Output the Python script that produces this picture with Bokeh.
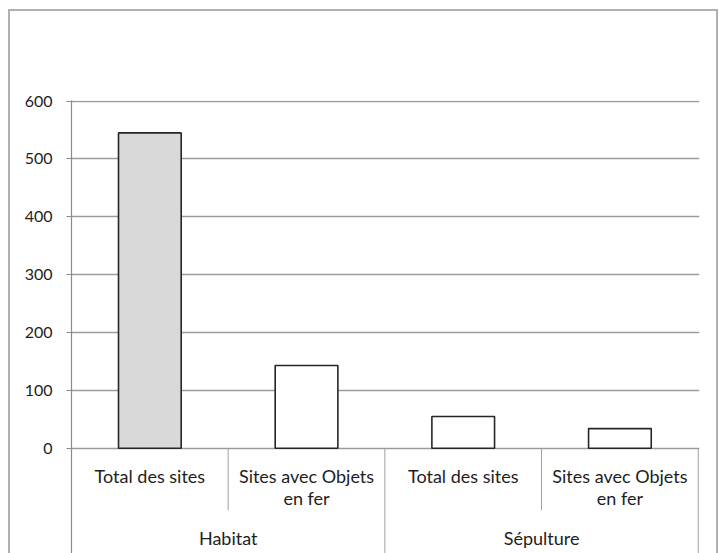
from bokeh.plotting import figure
from bokeh.models import Range1d, FixedTicker, ColumnDataSource
from bokeh.core.properties import value
from bokeh.embed import file_html
from bokeh.resources import INLINE

# ---- data ----
groups = ["Habitat", "Sépulture"]
subcats = ["Total des sites", "Sites avec Objets\nen fer"]
values = [545, 143, 55, 34]
fills = ["#d9d9d9", "#ffffff", "#ffffff", "#ffffff"]
y_ticks = [0, 100, 200, 300, 400, 500, 600]

FONT = "Lato"
W, H = 719, 553
Y_MIN, Y_MAX = -181.8, 601
PX_PER_UNIT = 452 / (Y_MAX - Y_MIN)

n_sub = len(subcats)
xs = [i + 0.5 for i in range(len(values))]
src = ColumnDataSource(dict(x=xs, top=values, fill=fills))

GRAY = "#b0b0b0"
border_css = ", ".join([
    "inset 8px 0 0 0 white", "inset 0 9px 0 0 white", "inset -1px 0 0 0 white",
    f"inset 10px 0 0 0 {GRAY}", f"inset 0 11px 0 0 {GRAY}", f"inset -3px 0 0 0 {GRAY}",
])

p = figure(width=W, height=H, output_backend="svg", toolbar_location=None,
           x_range=Range1d(0, 4.008), y_range=Range1d(Y_MIN, Y_MAX),
           min_border_left=71, min_border_right=20, min_border_top=100,
           min_border_bottom=0)
p.styles = {"box-shadow": border_css, "background-color": "white"}
p.outline_line_color = None
p.background_fill_color = "white"
p.border_fill_color = None

p.xaxis.visible = False
p.xgrid.visible = False
p.yaxis.ticker = FixedTicker(ticks=y_ticks)
p.ygrid.ticker = FixedTicker(ticks=y_ticks)
p.ygrid.grid_line_color = "#9b9b9b"
p.ygrid.grid_line_width = 1.3
p.yaxis.axis_line_color = "#8a8a8a"
p.yaxis.axis_line_width = 1.2
p.yaxis.major_tick_line_color = "#8a8a8a"
p.yaxis.major_tick_in = 0
p.yaxis.major_tick_out = 5
p.yaxis.minor_tick_line_color = None
p.yaxis.major_label_text_font = FONT
p.yaxis.major_label_text_font_size = "16px"
p.yaxis.major_label_text_color = "#1e1e1e"
p.yaxis.major_label_standoff = 14

p.vbar(x="x", top="top", bottom=0, width=0.4, source=src,
       fill_color="fill", line_color="#262626", line_width=1.6)

# category labels
lab_x, lab_t = [], []
for g in range(len(groups)):
    for s, name in enumerate(subcats):
        lab_x.append(g * n_sub + s + 0.5)
        lab_t.append(name)
p.text(x=lab_x, y=[0] * len(lab_x), text=lab_t, text_font=value(FONT),
       text_font_size="18px", text_align="center", text_baseline="top",
       text_color="#1e1e1e", y_offset=17, text_line_height=0.97)

# group labels
p.text(x=[g * n_sub + n_sub / 2 for g in range(len(groups))],
       y=[0] * len(groups), text=groups, text_font=value(FONT),
       text_font_size="18px", text_align="center", text_baseline="middle",
       text_color="#1e1e1e", y_offset=90)

# separators
sub_depth = -62 / PX_PER_UNIT
sub_sep = [g * n_sub + s for g in range(len(groups)) for s in range(1, n_sub)]
p.segment(x0=sub_sep, x1=sub_sep, y0=[0] * len(sub_sep), y1=[sub_depth] * len(sub_sep),
          line_color="#a0a0a0", line_width=1)
grp_sep = [(g + 1) * n_sub for g in range(len(groups))]
p.segment(x0=grp_sep, x1=grp_sep, y0=[0] * len(grp_sep), y1=[Y_MIN] * len(grp_sep),
          line_color="#a0a0a0", line_width=1)

open("out.html", "w").write(file_html(p, INLINE))
